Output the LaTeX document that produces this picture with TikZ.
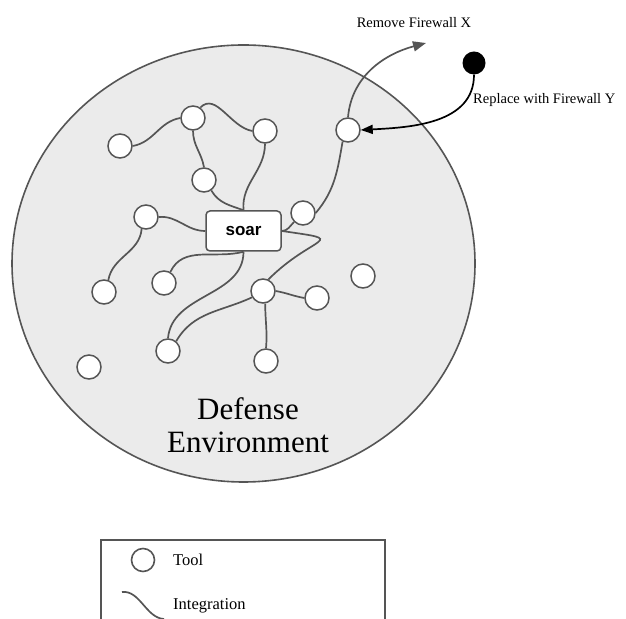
\documentclass[tikz,border=0pt]{standalone}
\usepackage{fontspec}
\setmainfont{Liberation Serif}
\newfontfamily\hubfont{Liberation Sans}
\usetikzlibrary{arrows.meta,shapes.geometric}
\definecolor{edgegray}{HTML}{555555}
\definecolor{envfill}{HTML}{EBEBEB}
\begin{document}
\begin{tikzpicture}[x=1pt,y=1pt,
  tool/.style={circle,draw=edgegray,fill=white,line width=1.5pt,minimum size=24pt,inner sep=0pt},
  link/.style={draw=edgegray,line width=1.7pt},
  hub/.style={rectangle,rounded corners=4pt,draw=edgegray,fill=white,line width=1.5pt,
    minimum width=75pt,minimum height=40pt,font=\hubfont\bfseries\fontsize{17}{20}\selectfont},
  note/.style={font=\fontsize{14.5}{17}\selectfont,inner sep=0pt},
  legendtext/.style={font=\fontsize{16.5}{19}\selectfont,inner sep=0pt,anchor=west}]

\useasboundingbox (0,0) rectangle (626,618);

% environment
\node[ellipse,draw=edgegray,fill=envfill,line width=1.6pt,minimum width=463pt,minimum height=437pt,inner sep=0pt]
  (env) at (243.5,354.5) {};
\node[align=center,font=\fontsize{31}{33}\selectfont] (envlabel) at (248,193) {Defense\\Environment};

% tools
\node[tool] (A) at (120,472) {};
\node[tool] (B) at (193,500) {};
\node[tool] (C) at (265,487) {};
\node[tool] (D) at (204,438) {};
\node[tool] (E) at (146,401) {};
\node[tool] (F) at (303,405) {};
\node[tool] (G) at (348,488) {};
\node[tool] (H) at (104,326) {};
\node[tool] (I) at (164,335) {};
\node[tool] (J) at (263,327) {};
\node[tool] (K) at (317,320) {};
\node[tool] (L) at (363,342) {};
\node[tool] (M) at (168,267) {};
\node[tool] (N) at (266,257) {};
\node[tool] (O) at (89,251) {};
\node[hub] (soar) at (243.5,387) {soar};

% integrations
\draw[link] (A.east) to[out=10,in=190] (B.west);
\draw[link] (B.55) to[out=45,in=170] (C.west);
\draw[link] (B.south) to[out=-90,in=100] (D.north);
\draw[link] (D.-55) to[out=-60,in=160] (soar.north);
\draw[link] (C.south) to[out=-90,in=95] (soar.north);
\draw[link] (E.east) to[out=5,in=180] (soar.west);
\draw[link] (soar.east) to[out=0,in=-135] (F.-135);
\draw[link] (F.east) to[out=50,in=-100] (G.-115);
\draw[link] (E.-110) to[out=-95,in=80] (H.70);
\draw[link] (soar.south) to[out=-165,in=65] (I.60);
\draw[link] (soar.south) to[out=-90,in=85] (M.north);
\draw[link] (soar.east) .. controls +(70,-10) and +(45,45) .. (J.65);
\draw[link] (J.-150) to[out=-155,in=60] (M.50);
\draw[link] (J.east) to[out=-10,in=170] (K.west);
\draw[link] (J.-80) to[out=-90,in=85] (N.north);

% replacement
\node[circle,fill=black,minimum size=23pt,inner sep=0pt] (Y) at (474,555) {};
\coordinate (out) at (426,575);
\draw[link,-{Triangle[length=13pt,width=10pt]}] (G.north) to[out=85,in=195] (out);
\draw[black,line width=1.7pt,-{Triangle[length=12pt,width=9pt]}] (Y.south) to[out=-90,in=3] (G.east);
\node[note] (rm) at (414,595) {Remove Firewall X};
\node[note,anchor=west] (rp) at (473,518) {Replace with Firewall Y};

% legend
\draw[edgegray,line width=1.4pt] (101,-20) rectangle (385,78);
\node[tool,line width=1.6pt,minimum size=23pt] (lt) at (143,58) {};
\node[legendtext] (ltt) at (173,58) {Tool};
\coordinate (w0) at (122,26);
\coordinate (w1) at (164,-1);
\draw[link] (w0) .. controls (140,28) and (146,0) .. (w1);
\node[legendtext] (lit) at (173,12) {Integration};
\end{tikzpicture}
\end{document}
